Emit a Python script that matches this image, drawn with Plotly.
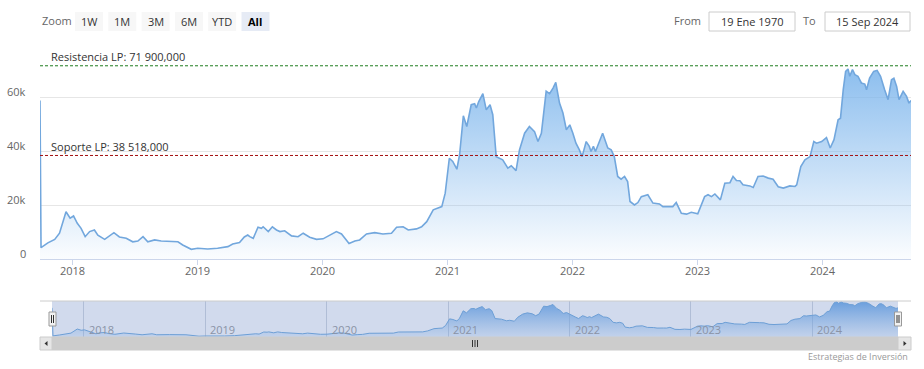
import plotly.graph_objects as go

# ---------------- data ----------------
dates = [
    "2017-09-27", "2017-09-30", "2017-10-20", "2017-11-09", "2017-11-23", "2017-12-12", "2017-12-24",
    "2018-01-03", "2018-01-14", "2018-01-25", "2018-02-06", "2018-02-19", "2018-03-05", "2018-03-15",
    "2018-04-04", "2018-05-01", "2018-05-17", "2018-06-06", "2018-06-25", "2018-07-10", "2018-07-25",
    "2018-08-08", "2018-08-28", "2018-09-16", "2018-11-04", "2018-11-18", "2018-12-13",
    "2019-01-01", "2019-01-30", "2019-02-28", "2019-03-30", "2019-04-13", "2019-05-03", "2019-05-17",
    "2019-05-27", "2019-06-02", "2019-06-12", "2019-06-26", "2019-07-06", "2019-07-11", "2019-07-26",
    "2019-08-07", "2019-08-19", "2019-08-29", "2019-09-12", "2019-10-02", "2019-10-21", "2019-11-05",
    "2019-11-24", "2019-12-14",
    "2020-01-02", "2020-01-21", "2020-02-10", "2020-02-25", "2020-03-05", "2020-03-18", "2020-04-04",
    "2020-04-18", "2020-05-08", "2020-06-01", "2020-06-25", "2020-07-20", "2020-08-04", "2020-08-23",
    "2020-09-07", "2020-10-01", "2020-10-16", "2020-10-31", "2020-11-19", "2020-12-04", "2020-12-14",
    "2020-12-24",
    "2021-01-01", "2021-01-05", "2021-01-15", "2021-01-27", "2021-02-04", "2021-02-15", "2021-02-25",
    "2021-03-10", "2021-03-20", "2021-03-25", "2021-04-01", "2021-04-13", "2021-04-23", "2021-05-04",
    "2021-05-12", "2021-05-22", "2021-06-10", "2021-06-20", "2021-06-25", "2021-07-05", "2021-07-19",
    "2021-07-29", "2021-08-13", "2021-08-27", "2021-09-11", "2021-09-21", "2021-10-01", "2021-10-15",
    "2021-10-25", "2021-11-04", "2021-11-12", "2021-11-23", "2021-12-03", "2021-12-13", "2021-12-23",
    "2022-01-01", "2022-01-10", "2022-01-20", "2022-01-28", "2022-02-09", "2022-02-18", "2022-02-23",
    "2022-03-02", "2022-03-08", "2022-03-29", "2022-04-13", "2022-04-23", "2022-05-02", "2022-05-12",
    "2022-05-22", "2022-06-01", "2022-06-10", "2022-06-17", "2022-06-30", "2022-07-10", "2022-07-20",
    "2022-08-08", "2022-08-23", "2022-09-11", "2022-09-21", "2022-10-10", "2022-10-20", "2022-10-30",
    "2022-11-09", "2022-11-14", "2022-11-29", "2022-12-13",
    "2023-01-01", "2023-01-21", "2023-01-31", "2023-02-10", "2023-02-20", "2023-03-08", "2023-03-21",
    "2023-04-05", "2023-04-14", "2023-04-24", "2023-05-04", "2023-05-13", "2023-06-02", "2023-06-12",
    "2023-06-26", "2023-07-11", "2023-07-26", "2023-08-09", "2023-08-24", "2023-09-08", "2023-09-27",
    "2023-10-12", "2023-10-17", "2023-10-29", "2023-11-10", "2023-11-25", "2023-12-06", "2023-12-14",
    "2023-12-29",
    "2024-01-12", "2024-01-23", "2024-02-03", "2024-02-15", "2024-02-22", "2024-03-01", "2024-03-08",
    "2024-03-15", "2024-03-20", "2024-03-28", "2024-04-04", "2024-04-13", "2024-04-23", "2024-05-03",
    "2024-05-08", "2024-05-17", "2024-05-29", "2024-06-08", "2024-06-18", "2024-06-30", "2024-07-10",
    "2024-07-20", "2024-07-27", "2024-08-04", "2024-08-11", "2024-08-23", "2024-09-02", "2024-09-09",
    "2024-09-15",
]
prices = [
    59000, 4200, 6000, 7300, 9600, 17600, 15200,
    16000, 13300, 11400, 8300, 10200, 10800, 8900,
    7300, 9800, 8200, 7700, 6400, 6700, 8300,
    6400, 7100, 6700, 6400, 5200, 3600,
    4000, 3700, 4000, 4600, 5600, 6100, 8200,
    8900, 8300, 7700, 11800, 11400, 12000, 10200,
    12000, 10800, 10200, 10500, 8600, 8300, 9600,
    8100, 7300,
    7500, 8900, 10200, 9300, 8000, 5800, 6700,
    7100, 9300, 9800, 9300, 9600, 11800, 12000,
    10800, 11200, 12000, 13900, 18300, 19100, 19500,
    24500,
    31900, 37500, 36300, 33400, 38800, 53300, 49300,
    57400, 57800, 56200, 58600, 61500, 55500, 57400,
    53700, 38100, 36900, 35000, 33800, 34700, 32900,
    40600, 46800, 49300, 47400, 43700, 46800, 62400,
    61500, 63600, 65700, 58000, 54300, 48100, 49900,
    46800, 43100, 40600, 38100, 43700, 41900, 40000,
    41900, 40000, 46800, 41300, 40600, 38100, 30700,
    29700, 30700, 28800, 21400, 20100, 21000, 23200,
    23900, 20800, 20500, 19500, 19600, 19500, 21000,
    18500, 17000, 16700, 17400,
    16800, 23200, 23900, 23200, 24200, 22000, 28200,
    28400, 30700, 29200, 29100, 27600, 27200, 26600,
    30700, 30900, 30100, 29700, 26900, 26400, 27200,
    27000, 27600, 34400, 36900, 38100, 43700, 43100,
    43700,
    45200, 41300, 44400, 51800, 52400, 63000, 69800,
    70700, 68000, 70500, 68600, 68000, 65500, 65100,
    63000, 67300, 69800, 70200, 68000, 63000, 59300,
    66700, 67300, 64200, 59300, 62400, 60500, 58000,
    59000,
]
years = [2018, 2019, 2020, 2021, 2022, 2023, 2024]
y_ticks = [0, 20000, 40000, 60000, 80000]
y_tick_labels = ["0", "20k", "40k", "60k", ""]
resistance = 71900
support = 38518
resistance_label = "Resistencia LP: 71 900,000"
support_label = "Soporte LP: 38 518,000"
zoom_buttons = ["1W", "1M", "3M", "6M", "YTD", "All"]
from_date = "19 Ene 1970"
to_date = "15 Sep 2024"
credits = "Estrategias de Inversión"

# ---------------- layout helpers ----------------
W, H = 924, 369
FONT = "Open Sans, Liberation Sans, Arial, sans-serif"


def fx(x):
    return x / W


def fy(y):
    return 1 - y / H


fig = go.Figure()

# main area series
fig.add_trace(go.Scatter(
    x=dates, y=prices, mode="lines",
    line=dict(color="#72a7dd", width=1.6),
    fill="tozeroy",
    fillgradient=dict(type="vertical",
                      colorscale=[[0, "rgba(124,181,236,0.03)"], [1, "rgba(124,181,236,0.98)"]],
                      start=0, stop=80000),
    xaxis="x", yaxis="y", hoverinfo="skip", showlegend=False,
))

# navigator series
fig.add_trace(go.Scatter(
    x=dates, y=prices, mode="lines",
    line=dict(color="#6d9fd6", width=1),
    fill="tozeroy",
    fillgradient=dict(type="vertical",
                      colorscale=[[0, "rgba(124,170,225,0.15)"], [1, "rgba(100,155,220,0.95)"]],
                      start=0, stop=72000),
    xaxis="x2", yaxis="y2", hoverinfo="skip", showlegend=False,
))

x_range = [dates[0], dates[-1]]
year_vals = [f"{y}-01-01" for y in years]

shapes = []
annotations = []

# plot lines
for val, col, label in [(resistance, "#1e7d1e", resistance_label), (support, "#a31010", support_label)]:
    shapes.append(dict(type="line", xref="paper", yref="y", x0=fx(40), x1=fx(911), y0=val, y1=val,
                       line=dict(color=col, width=1, dash="3px,2px")))
    annotations.append(dict(xref="paper", yref="y", x=fx(49), y=val, yshift=9, text=label,
                            showarrow=False, xanchor="left", yanchor="middle",
                            font=dict(family=FONT, size=11, color="#333333")))

# y labels (above gridlines, Highcharts style)
for v, t in zip(y_ticks, y_tick_labels):
    if t:
        annotations.append(dict(xref="paper", yref="y", x=fx(28), y=v, yshift=6, text=t,
                                showarrow=False, xanchor="right", yanchor="middle",
                                font=dict(family=FONT, size=11, color="#666666")))

# x labels of main axis
for yv, y in zip(year_vals, years):
    annotations.append(dict(xref="x", yref="paper", x=yv, y=fy(270.5), text=str(y),
                            showarrow=False, xanchor="center", yanchor="middle",
                            font=dict(family=FONT, size=11, color="#666666")))

# range selector
annotations.append(dict(xref="paper", yref="paper", x=fx(40), y=fy(21), text="Zoom", showarrow=False,
                        xanchor="left", yanchor="middle", font=dict(family=FONT, size=11, color="#666666")))
for i, b in enumerate(zoom_buttons):
    x0 = 75 + i * 33.3
    sel = (b == "All")
    shapes.append(dict(type="rect", xref="paper", yref="paper", x0=fx(x0), x1=fx(x0 + 28),
                       y0=fy(31), y1=fy(12), fillcolor="#e6ebf5" if sel else "#f7f7f7",
                       line=dict(width=0)))
    annotations.append(dict(xref="paper", yref="paper", x=fx(x0 + 14), y=fy(21.5),
                            text=f"<b>{b}</b>" if sel else b, showarrow=False,
                            xanchor="center", yanchor="middle",
                            font=dict(family=FONT, size=11, color="#000000" if sel else "#333333")))

# date inputs
annotations.append(dict(xref="paper", yref="paper", x=fx(703), y=fy(21), text="From", showarrow=False,
                        xanchor="right", yanchor="middle", font=dict(family=FONT, size=11, color="#666666")))
annotations.append(dict(xref="paper", yref="paper", x=fx(818), y=fy(21), text="To", showarrow=False,
                        xanchor="right", yanchor="middle", font=dict(family=FONT, size=11, color="#666666")))
for (x0, x1), t in [((709, 795), from_date), ((825, 910), to_date)]:
    shapes.append(dict(type="rect", xref="paper", yref="paper", x0=fx(x0), x1=fx(x1),
                       y0=fy(31), y1=fy(12), fillcolor="white", line=dict(color="#cccccc", width=1)))
    annotations.append(dict(xref="paper", yref="paper", x=fx((x0 + x1) / 2), y=fy(21.5), text=t,
                            showarrow=False, xanchor="center", yanchor="middle",
                            font=dict(family=FONT, size=11, color="#333333")))

# navigator mask, outline, handles
shapes.append(dict(type="rect", xref="paper", yref="paper", x0=fx(52), x1=fx(898), y0=fy(337), y1=fy(301),
                   fillcolor="rgba(102,133,194,0.30)", line=dict(width=0), layer="below"))
shapes.append(dict(type="line", xref="paper", yref="paper", x0=fx(40), x1=fx(911), y0=fy(301), y1=fy(301),
                   line=dict(color="#cccccc", width=1)))
for hx in (52.5, 898):
    shapes.append(dict(type="rect", xref="paper", yref="paper", x0=fx(hx - 3.5), x1=fx(hx + 3.5),
                       y0=fy(326), y1=fy(312), fillcolor="#f2f2f2", line=dict(color="#999999", width=1)))
    for dx in (-1, 1):
        shapes.append(dict(type="line", xref="paper", yref="paper", x0=fx(hx + dx), x1=fx(hx + dx),
                           y0=fy(323), y1=fy(315), line=dict(color="#333333", width=1)))

# navigator year labels
for yv, y in zip(year_vals, years):
    annotations.append(dict(xref="x2", yref="paper", x=yv, xshift=3, y=fy(329), text=str(y),
                            showarrow=False, xanchor="left", yanchor="middle",
                            font=dict(family=FONT, size=11, color="#8a93a6")))

# scrollbar
shapes.append(dict(type="rect", xref="paper", yref="paper", x0=fx(40), x1=fx(911), y0=fy(350), y1=fy(337),
                   fillcolor="#f2f2f2", line=dict(width=0)))
shapes.append(dict(type="rect", xref="paper", yref="paper", x0=fx(52), x1=fx(898), y0=fy(350), y1=fy(337),
                   fillcolor="#cccccc", line=dict(color="#cccccc", width=1)))
for bx0, bx1 in ((40, 52), (898, 911)):
    shapes.append(dict(type="rect", xref="paper", yref="paper", x0=fx(bx0), x1=fx(bx1), y0=fy(350), y1=fy(337),
                       fillcolor="#e6e6e6", line=dict(color="#cccccc", width=1)))
shapes.append(dict(type="path", xref="paper", yref="paper",
                   path=f"M {fx(44.5)} {fy(343.5)} L {fx(47.5)} {fy(341)} L {fx(47.5)} {fy(346)} Z",
                   fillcolor="#333333", line=dict(width=0)))
shapes.append(dict(type="path", xref="paper", yref="paper",
                   path=f"M {fx(906.5)} {fy(343.5)} L {fx(903.5)} {fy(341)} L {fx(903.5)} {fy(346)} Z",
                   fillcolor="#333333", line=dict(width=0)))
for gx in (-2.5, 0, 2.5):
    shapes.append(dict(type="line", xref="paper", yref="paper", x0=fx(475 + gx), x1=fx(475 + gx),
                       y0=fy(347), y1=fy(340), line=dict(color="#333333", width=1)))

# credits
annotations.append(dict(xref="paper", yref="paper", x=fx(910), y=fy(356), text=credits, showarrow=False,
                        xanchor="right", yanchor="middle", font=dict(family=FONT, size=9, color="#999999")))

fig.update_layout(
    width=W, height=H, autosize=False,
    margin=dict(l=0, r=0, t=0, b=0),
    paper_bgcolor="white", plot_bgcolor="rgba(0,0,0,0)",
    showlegend=False,
    font=dict(family=FONT, size=11, color="#666666"),
    xaxis=dict(domain=[fx(40), fx(911)], anchor="y", type="date", range=x_range,
               tickmode="array", tickvals=year_vals, showticklabels=False,
               showgrid=False, zeroline=False, showline=True, linecolor="#ccd6eb", linewidth=1,
               ticks="outside", ticklen=5, tickcolor="#ccd6eb", fixedrange=True),
    yaxis=dict(domain=[fy(259), fy(44)], anchor="x", range=[0, 80000], tickmode="array",
               tickvals=y_ticks, showticklabels=False, showgrid=True, gridcolor="#e6e6e6",
               gridwidth=1, zeroline=False, ticks="", fixedrange=True),
    xaxis2=dict(domain=[fx(52), fx(898)], anchor="y2", type="date", range=x_range,
                tickmode="array", tickvals=year_vals, showticklabels=False, showgrid=True,
                gridcolor="rgba(150,165,195,0.55)", zeroline=False, showline=False, ticks="",
                fixedrange=True),
    yaxis2=dict(domain=[fy(337), fy(301)], anchor="x2", range=[2000, 72500], showticklabels=False,
                showgrid=False, zeroline=False, ticks="", fixedrange=True),
    shapes=shapes,
    annotations=annotations,
)

fig.write_html(
    "out.html",
    config={"displayModeBar": False},
    post_script="document.body.style.margin='0';document.body.style.overflow='hidden';",
)
